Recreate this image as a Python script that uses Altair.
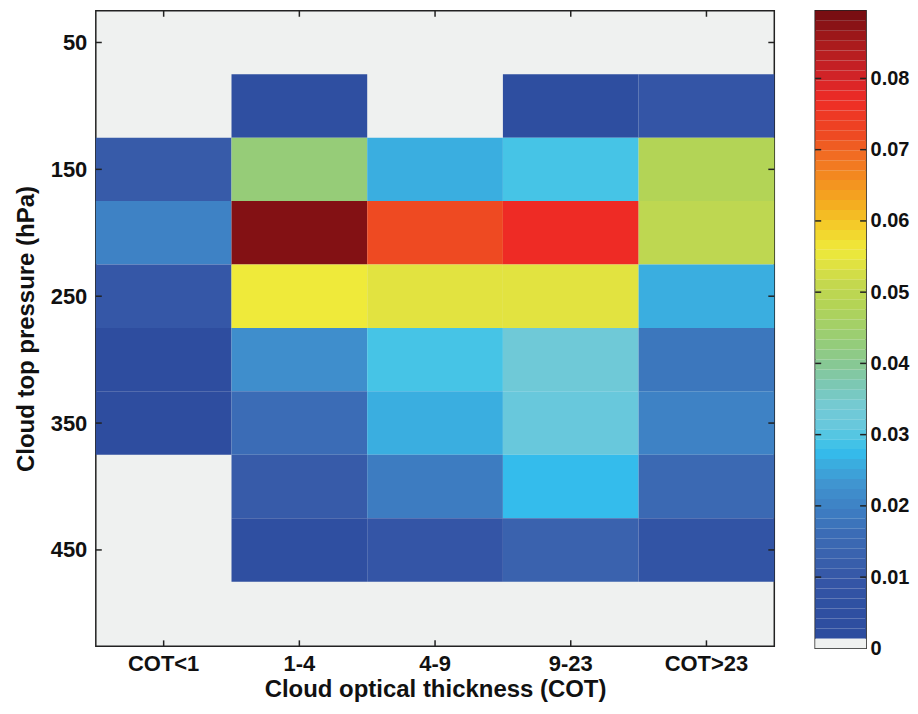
import altair as alt
import numpy as np
import pandas as pd

# ---------------- data ----------------
COT_CLASSES = ["COT<1", "1-4", "4-9", "9-23", "COT>23"]
P_TOP = [75, 125, 175, 225, 275, 325, 375, 425]
P_BOT = [125, 175, 225, 275, 325, 375, 425, 475]

# relative frequency per COT class, top pressure bin to bottom
FREQ = {
    "COT<1":  [0.0,   0.011, 0.020, 0.010, 0.003, 0.003, 0.0,    0.0],
    "1-4":    [0.005, 0.043, 0.088, 0.056, 0.022, 0.016, 0.011,  0.005],
    "4-9":    [0.0,   0.026, 0.072, 0.054, 0.029, 0.026, 0.019,  0.009],
    "9-23":   [0.004, 0.029, 0.077, 0.054, 0.033, 0.0315, 0.0275, 0.013],
    "COT>23": [0.009, 0.048, 0.050, 0.026, 0.018, 0.020, 0.015,  0.008],
}

Y_TICKS = [50, 150, 250, 350, 450]
CB_TICKS = [0.01, 0.02, 0.03, 0.04, 0.05, 0.06, 0.07, 0.08]
CB_LABELS = [0, 0.01, 0.02, 0.03, 0.04, 0.05, 0.06, 0.07, 0.08]
CB_MAX = 0.0895
N_LEVELS = 64

# colour ramp (value stops -> colours); 0 is shown as light grey
C_STOPS = [0, 0.0013, 0.0014, 0.006, 0.010, 0.013, 0.016, 0.019, 0.023, 0.026,
           0.0275, 0.029, 0.0315, 0.034, 0.037, 0.040, 0.043, 0.048, 0.051,
           0.054, 0.056, 0.059, 0.062, 0.066, 0.070, 0.072, 0.077, 0.080,
           0.085, 0.0895]
C_COLORS = ["#eff1f0", "#eff1f0", "#2d4c9e", "#2f50a2", "#3557a7", "#3a62ae",
            "#3b6cb6", "#3d7cc1", "#4094d0", "#3aaee0", "#34bcec", "#46c4e6",
            "#68c8dc", "#74cad4", "#7cc8b4", "#88c892", "#96cc78", "#b3d456",
            "#c4d84e", "#e2e340", "#efea3a", "#f4d02a", "#f4b020", "#f38c20",
            "#f06422", "#ee4a22", "#ee2b25", "#d42428", "#a81a1c", "#700c10"]

# ---------------- tables ----------------
rows = []
for c in COT_CLASSES:
    for t, b, v in zip(P_TOP, P_BOT, FREQ[c]):
        if v > 0:
            rows.append({"cot": c, "ptop": t, "pbot": b, "freq": v})
cells = pd.DataFrame(rows)

step = CB_MAX / N_LEVELS
lev_lo = np.arange(N_LEVELS) * step
cbar = pd.DataFrame({"lo": lev_lo, "hi": lev_lo + step, "mid": lev_lo + step / 2})

W, H = 680, 637
CB_W, CB_H = 51, 639
FONT = "Liberation Sans, Arial, Helvetica, sans-serif"
FRAME = "#222222"
TICK = 6

color_scale = alt.Scale(domain=C_STOPS, range=C_COLORS, type="linear", interpolate="rgb")

xscale = alt.Scale(domain=COT_CLASSES, paddingInner=0, paddingOuter=0)
yscale = alt.Scale(domain=[25, 526], reverse=True, nice=False, zero=False)

xaxis = alt.Axis(title="Cloud optical thickness (COT)", labelAngle=0, ticks=False, tickSize=0,
                 domain=False, grid=False, labelFont=FONT, labelFontSize=22, labelFontWeight="bold",
                 labelColor="#111", labelPadding=7, titleFont=FONT, titleFontSize=24,
                 titleFontWeight="bold", titleColor="#111", titlePadding=3)
yaxis = alt.Axis(title="Cloud top pressure (hPa)", values=Y_TICKS, ticks=False, tickSize=0,
                 domain=False, grid=False, labelFont=FONT, labelFontSize=22, labelFontWeight="bold",
                 labelColor="#111", labelPadding=9, titleFont=FONT, titleFontSize=24,
                 titleFontWeight="bold", titleColor="#111", titlePadding=12)

heat = alt.Chart(cells).mark_rect().encode(
    x=alt.X("cot:N", scale=xscale, axis=xaxis, sort=COT_CLASSES),
    y=alt.Y("ptop:Q", scale=yscale, axis=yaxis),
    y2="pbot:Q",
    color=alt.Color("freq:Q", scale=color_scale, legend=None),
)

xt = pd.DataFrame({"cot": COT_CLASSES})
yt = pd.DataFrame({"p": Y_TICKS})

tick_bottom = alt.Chart(xt).mark_rule(color=FRAME, strokeWidth=1.5).encode(
    x=alt.X("cot:N", scale=xscale, sort=COT_CLASSES, bandPosition=0.5),
    y=alt.value(H - TICK), y2=alt.value(H))
tick_top = alt.Chart(xt).mark_rule(color=FRAME, strokeWidth=1.5).encode(
    x=alt.X("cot:N", scale=xscale, sort=COT_CLASSES, bandPosition=0.5),
    y=alt.value(0), y2=alt.value(TICK))
tick_left = alt.Chart(yt).mark_rule(color=FRAME, strokeWidth=1.5).encode(
    y=alt.Y("p:Q", scale=yscale), x=alt.value(0), x2=alt.value(TICK))
tick_right = alt.Chart(yt).mark_rule(color=FRAME, strokeWidth=1.5).encode(
    y=alt.Y("p:Q", scale=yscale), x=alt.value(W - TICK), x2=alt.value(W))

main = alt.layer(heat, tick_bottom, tick_top, tick_left, tick_right).properties(width=W, height=H)

cb_scale = alt.Scale(domain=[0, CB_MAX], nice=False, zero=True)
cb_axis = alt.Axis(orient="right", title=None, values=CB_LABELS, ticks=False, tickSize=0,
                   domain=False, grid=False, labelFont=FONT, labelFontSize=20,
                   labelFontWeight="bold", labelColor="#111", labelPadding=4,
                   labelExpr="datum.value == 0 ? '0' : format(datum.value, '.2f')")

bands = alt.Chart(cbar).mark_rect().encode(
    y=alt.Y("lo:Q", scale=cb_scale, axis=cb_axis),
    y2="hi:Q",
    x=alt.value(0), x2=alt.value("width"),
    color=alt.Color("mid:Q", scale=color_scale, legend=None),
)
ct = pd.DataFrame({"v": CB_TICKS})
cb_tl = alt.Chart(ct).mark_rule(color=FRAME, strokeWidth=1.5).encode(
    y=alt.Y("v:Q", scale=cb_scale), x=alt.value(0), x2=alt.value(TICK))
cb_tr = alt.Chart(ct).mark_rule(color=FRAME, strokeWidth=1.5).encode(
    y=alt.Y("v:Q", scale=cb_scale), x=alt.value(CB_W - TICK), x2=alt.value(CB_W))

colorbar = alt.layer(bands, cb_tl, cb_tr).properties(width=CB_W, height=CB_H)

chart = alt.hconcat(main, colorbar, spacing=37).resolve_scale(color="shared").properties(
    padding={"left": 5, "top": 0, "right": 0, "bottom": 0}
).configure(
    background="white"
).configure_view(
    fill="#eff1f0", stroke=FRAME, strokeWidth=1.5
)

chart.save("out.html", embed_options={"renderer": "svg", "actions": False})
